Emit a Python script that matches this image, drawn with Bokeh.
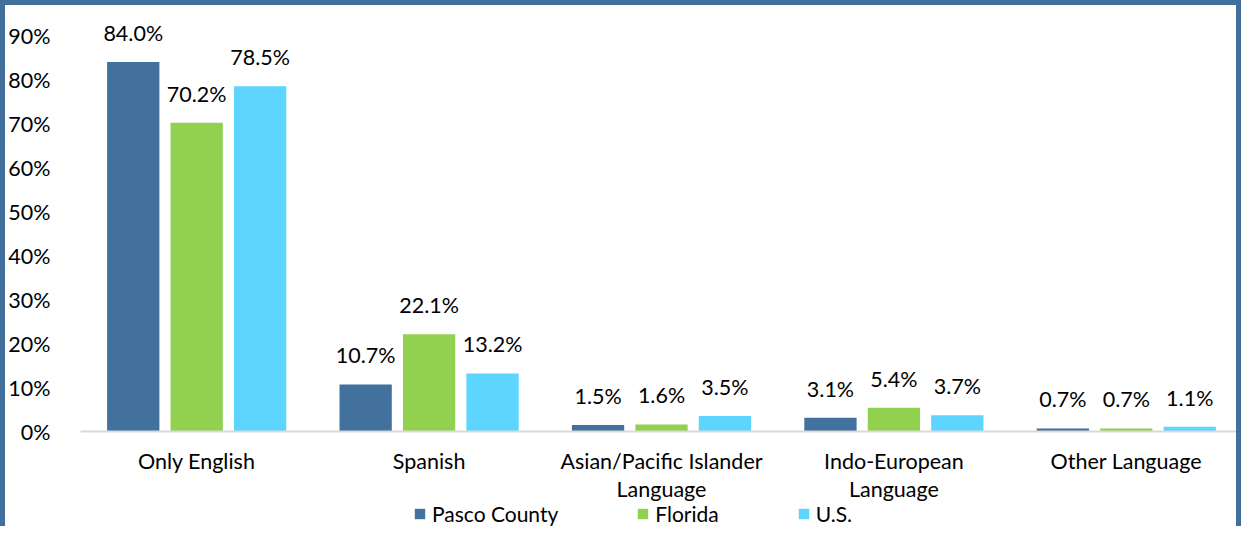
from bokeh.plotting import figure
from bokeh.layouts import column
from bokeh.models import ColumnDataSource, Legend, LegendItem, NumeralTickFormatter, FixedTicker
from bokeh.transform import dodge
from bokeh.core.properties import value
from bokeh.embed import file_html
from bokeh.resources import INLINE

categories = ["Only English", "Spanish", "Asian/Pacific Islander\nLanguage", "Indo-European\nLanguage", "Other Language"]
series = ["Pasco County", "Florida", "U.S."]
pasco = [0.840, 0.107, 0.015, 0.031, 0.007]
florida = [0.702, 0.221, 0.016, 0.054, 0.007]
us = [0.785, 0.132, 0.035, 0.037, 0.011]
colors = ["#41719C", "#92D050", "#5DD5FF"]
y_ticks = [0, 0.1, 0.2, 0.3, 0.4, 0.5, 0.6, 0.7, 0.8, 0.9]

FONT = "Lato"
FS = "21.5px"
W = 1241
BORDER = "5px solid #41709C"

p = figure(x_range=categories, y_range=(0, 0.93), width=W, height=503,
           output_backend="svg", toolbar_location=None,
           min_border_left=68, min_border_right=4, min_border_top=17, min_border_bottom=77)
p.styles = {"border-left": BORDER, "border-top": BORDER, "border-right": BORDER}
p.outline_line_color = None
p.xgrid.grid_line_color = None
p.ygrid.grid_line_color = None

src = ColumnDataSource(dict(cat=categories, pasco=pasco, florida=florida, us=us,
                            pasco_l=[f"{v*100:.1f}%" for v in pasco],
                            florida_l=[f"{v*100:.1f}%" for v in florida],
                            us_l=[f"{v*100:.1f}%" for v in us]))

offsets = [-0.273, 0.0, 0.273]
keys = ["pasco", "florida", "us"]
for off, key, col in zip(offsets, keys, colors):
    p.vbar(x=dodge("cat", off, range=p.x_range), top=key, width=0.225, source=src,
           fill_color=col, line_color=None)
    p.text(x=dodge("cat", off, range=p.x_range), y=key, text=key + "_l", source=src,
           text_align="center", text_baseline="bottom", y_offset=-16,
           text_font=value(FONT), text_font_size=FS, text_color="#000000")

p.yaxis.ticker = FixedTicker(ticks=y_ticks)
p.yaxis.formatter = NumeralTickFormatter(format="0%")
p.yaxis.axis_line_color = None
p.yaxis.major_tick_line_color = None
p.yaxis.minor_tick_line_color = None
p.yaxis.major_label_standoff = 24
p.yaxis.major_label_text_font = FONT
p.yaxis.major_label_text_font_size = FS
p.yaxis.major_label_text_color = "#000000"

p.xaxis.axis_line_color = "#D9D9D9"
p.xaxis.axis_line_width = 2
p.xaxis.major_tick_line_color = None
p.xaxis.minor_tick_line_color = None
p.xaxis.major_label_standoff = 10
p.xaxis.major_label_text_font = FONT
p.xaxis.major_label_text_font_size = FS
p.xaxis.major_label_text_color = "#000000"
p.xaxis.major_label_text_line_height = 1.1

# legend strip below the chart
pl = figure(width=W, height=23, output_backend="svg", toolbar_location=None,
            x_axis_type=None, y_axis_type=None, x_range=(0, 1), y_range=(0, 1),
            min_border_left=0, min_border_right=0, min_border_top=0, min_border_bottom=0)
pl.styles = {"border-left": BORDER, "border-right": BORDER}
pl.outline_line_color = None
pl.xgrid.grid_line_color = None
pl.ygrid.grid_line_color = None
leg_renderers = [pl.vbar(x=[0.5], top=[0], bottom=[0], width=0.01, fill_color=c, line_color=None)
                 for c in colors]
legend = Legend(items=[LegendItem(label=s, renderers=[r]) for s, r in zip(series, leg_renderers)],
                orientation="horizontal", location=(333, 0),
                spacing=78, glyph_width=13, glyph_height=13, label_standoff=6,
                label_text_font=FONT, label_text_font_size="21px", label_text_color="#000000",
                border_line_color=None, background_fill_alpha=0, padding=0, margin=0)
pl.add_layout(legend, "center")

layout = column(p, pl, spacing=0)
open("out.html", "w").write(file_html(layout, INLINE))
